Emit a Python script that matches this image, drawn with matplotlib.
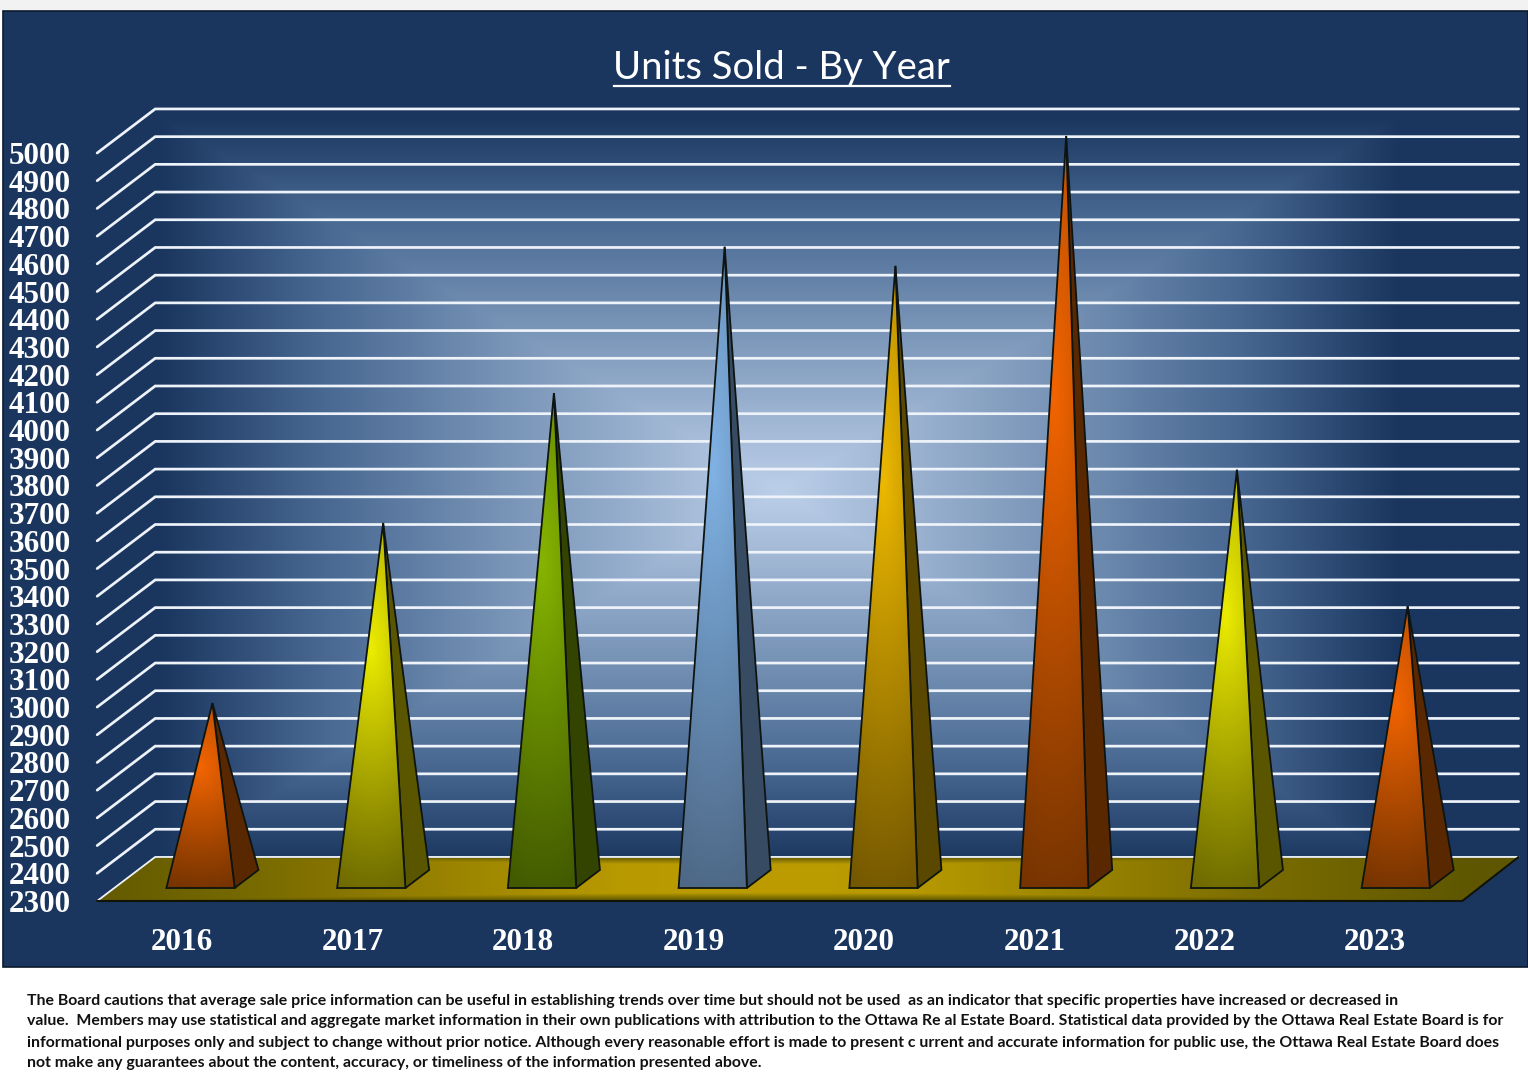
#!/usr/bin/env python3
import numpy as np
import matplotlib
matplotlib.use("Agg")
import matplotlib.pyplot as plt
from matplotlib.colors import LinearSegmentedColormap
from matplotlib.lines import Line2D
from matplotlib.patches import Polygon, Rectangle

# Values
years = ["2016", "2017", "2018", "2019", "2020", "2021", "2022", "2023"]
units = [2935, 3585, 4054, 4582, 4513, 4982, 3777, 3285]
y_ticks = list(range(2300, 5100, 100))

title = "Units Sold - By Year"
footer = [
    "The Board cautions that average sale price information can be useful in establishing trends over time but should not be used  as an indicator that specific properties have increased or decreased in",
    "value.  Members may use statistical and aggregate market information in their own publications with attribution to the Ottawa Re al Estate Board. Statistical data provided by the Ottawa Real Estate Board is for",
    "informational purposes only and subject to change without prior notice. Although every reasonable effort is made to present c urrent and accurate information for public use, the Ottawa Real Estate Board does",
    "not make any guarantees about the content, accuracy, or timeliness of the information presented above.",
]

# bright, base, side colours of each pyramid
palette = {
    "orange": ("#f26400", "#763400", "#5a2800"),
    "yellow": ("#ecec00", "#6e6a00", "#5a5600"),
    "green": ("#86b400", "#425a00", "#324400"),
    "blue": ("#80b2e4", "#4e6886", "#374b62"),
    "gold": ("#ecb800", "#745800", "#5a4800"),
}
year_colors = ["orange", "yellow", "green", "blue", "gold", "orange", "yellow", "orange"]

W, H = 1528, 1080
NAVY = "#1a365f"

# fake 3D: one unit of depth moves a point right and up, in data units
DEPTH_X = 0.34
DEPTH_Y = 159.0
X_MIN, X_MAX = -0.505, 7.49
WALL_X = 7.48
BAR_W = 0.4
D_FRONT, D_BACK = 0.295, 0.705


def project(x, v, d=0.0):
    return x + DEPTH_X * d, v + DEPTH_Y * d


def px_x(x):
    return x / W


def px_y(y):
    return 1 - y / H


fig = plt.figure(figsize=(W / 100, H / 100), dpi=100, facecolor="white")

# page strip and the navy panel
fig.add_artist(Rectangle((0, px_y(10)), 1, 10 / H, transform=fig.transFigure, color="#f2f2f2", lw=0, zorder=-2))
fig.add_artist(Rectangle((px_x(3), px_y(967)), 1 - px_x(3), 956 / H, transform=fig.transFigure,
                         facecolor=NAVY, edgecolor="#0c1a2c", lw=1.2, zorder=-1))

ax = fig.add_axes([px_x(98), px_y(901), 1366 / W, (901 - 153) / H])
ax.patch.set_alpha(0)
for s in ax.spines.values():
    s.set_visible(False)

# back wall: rectangular path gradient, so the contours are boxes with a diagonal crease
wall_x0, wall_y0 = project(X_MIN, y_ticks[0], 1)
wall_x1, wall_y1 = project(WALL_X, y_ticks[-1], 1)
gx, gy = np.meshgrid(np.linspace(0, 1, 700), np.linspace(0, 1, 500))
r = np.maximum(np.abs(gx - 0.458) / 0.455, np.abs(gy - 0.49) / 0.5)
wall_cmap = LinearSegmentedColormap.from_list(
    "wall", [(0, NAVY), (0.25, "#466690"), (0.5, "#6f8cb0"), (1, "#bccfe9")])
ax.imshow(np.clip(1 - r, 0, 1), extent=[wall_x0, wall_x1, wall_y0, wall_y1], origin="lower",
          cmap=wall_cmap, vmin=0, vmax=1, aspect="auto", clip_on=False, zorder=1, interpolation="bilinear")

# grid lines run up the side wall and along the back
for v in y_ticks[1:]:
    pts = [project(X_MIN, v, 0), project(X_MIN, v, 1), project(WALL_X, v, 1)]
    ax.plot([p[0] for p in pts], [p[1] for p in pts], color="#eef3fa", lw=1.95, clip_on=False,
            zorder=2, solid_capstyle="round", solid_joinstyle="miter")

# floor
floor_pts = [project(X_MIN, y_ticks[0], 0), project(X_MIN, y_ticks[0], 1),
             project(WALL_X, y_ticks[0], 1), project(X_MAX, y_ticks[0], 0)]
floor_x0, floor_y0 = floor_pts[0]
floor_x1, floor_y1 = floor_pts[2]
fx, fy = np.meshgrid(np.linspace(0, 1, 700), np.linspace(0, 1, 80))
tx = 1 - np.abs(fx - 0.47) / 0.5
ty = np.clip((0.5 - np.abs(fy - 0.5)) / 0.22, 0, 1)
floor_cmap = LinearSegmentedColormap.from_list(
    "floor", [(0, "#5e5600"), (0.3, "#7a6c00"), (0.8, "#b89a00"), (1, "#bc9c00")])
floor_img = ax.imshow(np.minimum(tx, ty), extent=[floor_x0, floor_x1, floor_y0, floor_y1], origin="lower",
                      cmap=floor_cmap, vmin=0, vmax=1, aspect="auto", zorder=3, interpolation="bilinear")
floor_poly = Polygon(floor_pts, closed=True, facecolor="none", edgecolor="none", zorder=3, clip_on=False)
ax.add_patch(floor_poly)
# the image is clipped to the axes box unless told otherwise
floor_img.set_clip_box(fig.bbox)
floor_img.set_clip_path(floor_poly)
ax.plot(*zip(floor_pts[0], floor_pts[1], floor_pts[2]), color="#eef3fa", lw=1.3, clip_on=False, zorder=3.1)
ax.plot(*zip(floor_pts[2], floor_pts[3], floor_pts[0]), color="#101408", lw=1.5, clip_on=False, zorder=3.2)

# pyramids
base = y_ticks[0]
for i, v in enumerate(units):
    bright, dark, side = palette[year_colors[i]]
    fl = project(i - BAR_W / 2, base, D_FRONT)
    fr_pt = project(i + BAR_W / 2, base, D_FRONT)
    br = project(i + BAR_W / 2, base, D_BACK)
    apex = project(i, v, 0.5)
    # v is where the tip sits on the mid depth plane, base there is 2300
    face = Polygon([fl, fr_pt, apex], closed=True, facecolor="none", edgecolor="#0e1412", lw=1.3,
                   zorder=5, joinstyle="miter", clip_on=False)
    side_face = Polygon([fr_pt, br, apex], closed=True, facecolor=side, edgecolor="#0e1412", lw=1.3,
                        zorder=4, joinstyle="miter", clip_on=False)
    ax.add_patch(side_face)
    sx, sy = np.meshgrid(np.linspace(-1, 1, 80), np.linspace(0, 1, 300))
    falloff = np.where(sy < 0.65, (0.65 - sy) / 0.68, (sy - 0.65) / 1.0)
    glow = np.clip(1 - np.sqrt(falloff ** 2 + (sx / 3.0) ** 2), 0, 1)
    cmap = LinearSegmentedColormap.from_list("face", [dark, bright])
    img = ax.imshow(glow ** 1.1, extent=[fl[0], fr_pt[0], fl[1], apex[1]], origin="lower", cmap=cmap,
                    vmin=0, vmax=1, aspect="auto", zorder=4.5, interpolation="bilinear")
    clip = Polygon([fl, fr_pt, apex], closed=True, facecolor="none", edgecolor="none", clip_on=False)
    ax.add_patch(clip)
    img.set_clip_box(fig.bbox)
    img.set_clip_path(clip)
    ax.add_patch(face)

ax.set_xlim(-0.5, 7.5)
ax.set_ylim(y_ticks[0], y_ticks[-1])
# year labels sit a touch tighter than the pyramids in the original
ax.set_xticks([i * 0.998 - 0.006 for i in range(len(years))], years)
ax.set_yticks(y_ticks, [str(t) for t in y_ticks])
ax.tick_params(length=0, colors="white")
ax.tick_params(axis="y", pad=19.5)
ax.tick_params(axis="x", pad=19.5)
for lab in ax.get_xticklabels() + ax.get_yticklabels():
    lab.set_family("Liberation Serif")
    lab.set_weight("bold")
    lab.set_fontsize(22.4)
    lab.set_color("white")

# title and its underline
fig.text(px_x(781.5), px_y(68.5), title, color="white", fontsize=27.5, family="Lato", ha="center", va="center")
fig.add_artist(Line2D([px_x(614), px_x(949.5)], [px_y(86)] * 2, transform=fig.transFigure, color="white", lw=1.6))

# footer note
for line, y in zip(footer, [1001, 1021.5, 1042.5, 1063.5]):
    fig.text(px_x(27), px_y(y), line, color="#111111", fontsize=11.4, family="Lato", weight="bold",
             ha="left", va="center")

fig.savefig("out.png", dpi=100)
plt.close(fig)
